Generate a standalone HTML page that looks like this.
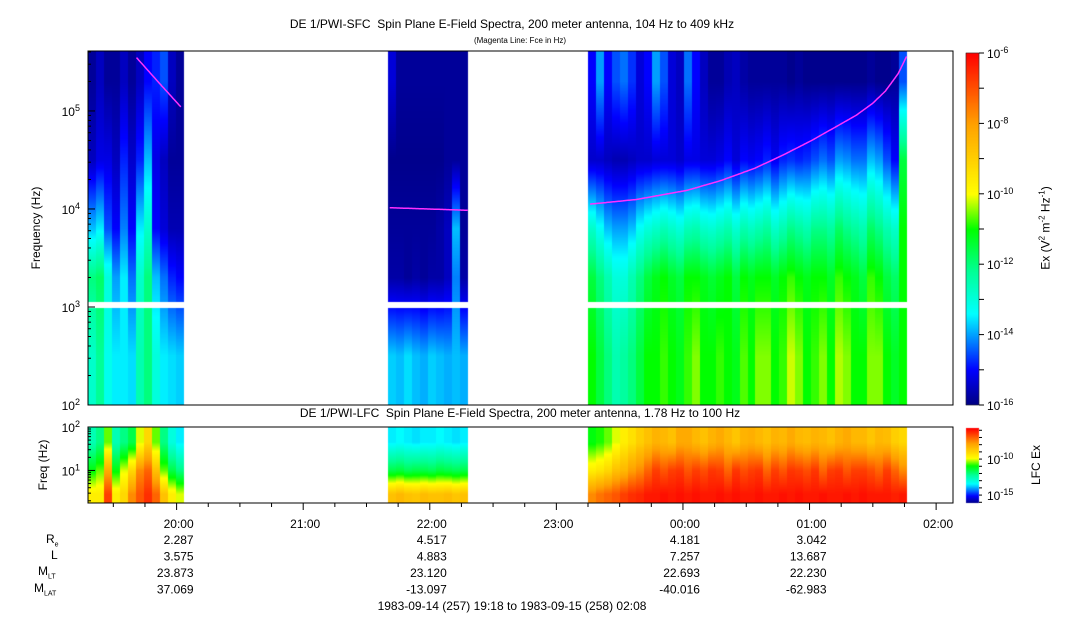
<!DOCTYPE html>
<html><head><meta charset="utf-8">
<style>
html,body{margin:0;padding:0;background:#fff;}
body{width:1083px;height:620px;position:relative;overflow:hidden;font-family:"Liberation Sans",sans-serif;color:#000;}
.t{position:absolute;white-space:nowrap;font-size:12px;}
canvas,svg{position:absolute;left:0;top:0;}
</style></head><body>
<canvas id="cv" width="1083" height="620"></canvas>
<svg id="sv" width="1083" height="620"></svg>
<div class="t" style="left:0;width:1024px;text-align:center;top:17px;font-size:12px">DE 1/PWI-SFC&nbsp; Spin Plane E-Field Spectra, 200 meter antenna, 104 Hz to 409 kHz</div>
<div class="t" style="left:0;width:1040px;text-align:center;top:36px;font-size:8px">(Magenta Line: Fce in Hz)</div>
<div class="t" style="left:0;width:1040px;text-align:center;top:406px;font-size:12px">DE 1/PWI-LFC&nbsp; Spin Plane E-Field Spectra, 200 meter antenna, 1.78 Hz to 100 Hz</div>
<div class="t" style="left:36px;top:228px;transform:translate(-50%,-50%) rotate(-90deg);">Frequency (Hz)</div>
<div class="t" style="left:43px;top:465px;transform:translate(-50%,-50%) rotate(-90deg);">Freq (Hz)</div>
<div class="t" style="left:1045px;top:228px;transform:translate(-50%,-50%) rotate(-90deg);">Ex (V<sup style="font-size:8px">2</sup> m<sup style="font-size:8px">-2</sup> Hz<sup style="font-size:8px">-1</sup>)</div>
<div class="t" style="left:1036px;top:465px;transform:translate(-50%,-50%) rotate(-90deg);">LFC Ex</div>
<div class="t" style="left:46px;top:532px">R<sub style="font-size:7px">e</sub></div>
<div class="t" style="left:51px;top:548px">L</div>
<div class="t" style="left:38px;top:564px">M<sub style="font-size:7px">LT</sub></div>
<div class="t" style="left:34px;top:581px">M<sub style="font-size:7px">LAT</sub></div>
<div class="t" style="left:0;width:1024px;text-align:center;top:599px">1983-09-14 (257) 19:18 to 1983-09-15 (258) 02:08</div>
<script>
// ---- data ----
const segTimes=[[0,45.5],[142.2,180.1],[237,388.2]]; // minutes after 19:18 (start,end) of data segments
// SFC band levels (log10 Ex) per column, bands A(100-1k) B(1k-4k) C(4k-12k) D(12k-100k) E(100k-409k)
const s1A=[-12.8,-12.2,-13.2,-13.5,-13.5,-13.6,-12.5,-12,-13,-13.5,-13.6,-13.7];
const s1B=[-12,-11.8,-13,-14,-13.5,-14.3,-12.8,-12,-13.8,-14.3,-14.8,-15];
const s1C=[-13.8,-13.5,-14.5,-15,-14.2,-15,-13.5,-12.8,-15,-15.3,-15.6,-15.6];
const s1D=[-15.5,-15.2,-15.2,-15.5,-14.8,-15.4,-14.8,-13.8,-15.2,-15.5,-15.8,-15.8];
const s1E=[-15.8,-15.5,-15.8,-15.8,-15.5,-15.8,-15.5,-15,-14.8,-14.5,-15.5,-15.8];
const s2A=[-13.7,-13.8,-13.6,-13.8,-13.9,-13.7,-13.8,-13.9,-13.8,-13.9];
const s2B=[-15.7,-15.7,-15.8,-15.7,-15.8,-15.7,-15.7,-15.5,-14.2,-15.7];
const s2C=[-15.8,-15.8,-15.8,-15.8,-15.8,-15.8,-15.7,-15.5,-13.8,-15.8];
const s2D=[-15.9,-15.9,-15.9,-15.9,-15.9,-15.9,-15.9,-15.8,-15.8,-15.8];
const s2E=[-15.3,-15.8,-15.8,-15.8,-15.8,-15.8,-15.8,-15.8,-15.8,-15.8];
const s3A=[-11,-11.5,-12,-12.5,-12.3,-12,-11.5,-11,-11,-10.8,-11,-11.2,-10.8,-10.5,-11,-11,-10.8,-11,-11.2,-10.7,-11,-10.5,-10.5,-11,-10.8,-10.2,-10.5,-11,-10.8,-10.5,-11,-10.3,-10.5,-11,-11,-10.5,-10.5,-11,-11.3,-11];
const s3B=[-11.5,-12,-12.5,-13,-13,-12.5,-12,-11.5,-11.2,-11,-11.3,-11.5,-11,-11,-11.2,-11.4,-11.2,-11,-11.5,-11,-11.2,-11,-11,-11.3,-11,-10.8,-11,-11.2,-11,-11,-11.3,-10.8,-11,-11.2,-11.5,-10.8,-11,-11.5,-11.8,-11];
const s3C=[-12.8,-13.3,-13.8,-14,-14,-13.8,-13.3,-13,-12.8,-12.6,-12.8,-13,-12.6,-12.5,-12.8,-12.9,-12.7,-12.5,-12.9,-12.5,-12.7,-12.5,-12.3,-12.8,-12.5,-12.1,-12.3,-12.5,-12.1,-12.1,-12.3,-11.8,-12.1,-12.3,-12.5,-11.8,-12.1,-12.5,-12.8,-11];
const s3D=[-15.4,-15.4,-15.5,-15.6,-15.6,-15.5,-15.4,-15.4,-15.3,-15.3,-15.3,-15.4,-15.2,-15.2,-15.3,-15.3,-15.2,-15,-15.3,-15,-15.1,-15,-14.8,-15.1,-14.8,-14.7,-14.8,-14.7,-14.5,-14.3,-14.5,-14,-14.1,-14.3,-14.3,-13.8,-14,-14.5,-15,-11.5];
const s3E=[-15,-14,-15,-14.5,-14.3,-14.7,-15.3,-15,-14,-14.5,-15.3,-15.5,-14.3,-15,-15.5,-15.8,-15.8,-15.6,-15.5,-15.7,-15.8,-15.8,-15.8,-15.8,-15.8,-15.9,-15.8,-15.9,-15.9,-15.9,-15.9,-15.9,-15.9,-15.9,-15.9,-15.8,-15.9,-15.9,-15.8,-14.5];
// LFC bands low(1.78-5) mid(5-20) high(20-100)
const l1L=[-9.5,-9.5,-6.5,-9.5,-9,-7.5,-6.8,-6.3,-7,-8.5,-9.5,-10];
const l1M=[-11,-10.5,-8,-11,-10,-9,-7.5,-7,-8.5,-10.5,-11.5,-12];
const l1H=[-12.5,-12,-10.5,-12.5,-12,-11.5,-10,-9,-10.5,-12,-13,-13.5];
const l2L=[-8.5,-8.3,-8.5,-8.6,-8.4,-8.5,-8.5,-8.4,-8.6,-8.5];
const l2M=[-11.5,-11.4,-11.6,-11.5,-11.5,-11.6,-11.4,-11.5,-11.6,-11.5];
const l2H=[-13.5,-13.4,-13.5,-13.6,-13.5,-13.5,-13.4,-13.5,-13.6,-13.5];
const l3L=[-7.5,-7.2,-7,-6.8,-6.5,-6.3,-6.2,-6,-6,-5.9,-6,-5.9,-6,-5.9,-6,-6,-5.9,-6,-5.9,-6,-6,-5.9,-6,-6,-5.9,-6,-5.9,-6,-6,-5.9,-6,-6,-5.9,-6,-5.9,-6,-6,-6,-6.1,-6];
const l3M=[-9.5,-9.3,-9,-8.5,-8.3,-7.8,-7.5,-7,-6.5,-6.8,-6.5,-6.4,-6.8,-6.5,-6.7,-6.4,-6.5,-7,-6.4,-6.7,-6.5,-6.4,-7,-6.5,-6.8,-6.4,-6.5,-6.7,-6.4,-7,-6.5,-6.4,-6.8,-6.5,-6.5,-6.7,-7,-6.5,-7,-7.5];
const l3H=[-11,-10.8,-10.5,-10,-9.5,-9.2,-8.8,-8.5,-8.2,-8.3,-8.5,-8,-8,-8.3,-8.5,-8.2,-8,-8.3,-8.6,-8.2,-8.1,-8.3,-8.5,-8.2,-8.3,-8,-8.3,-8.4,-8.2,-8.3,-8.5,-8.2,-8,-8.3,-8.3,-8.6,-8.3,-8.4,-8.8,-9];
// Fce magenta line: times (min after 19:18) and Fce (Hz)
const fceT1=[23,34,44], fceV1=[350000,190000,110000];
const fceT2=[143,180], fceV2=[10300,9700];
const fceT3=[238,260,284,300,316,330,343,354,364,372,378,384,388], fceV3=[11200,12500,15500,19500,26000,36000,50000,68000,90000,120000,160000,240000,360000];
// ticks & annotations
const hourLabels=["20:00","21:00","22:00","23:00","00:00","01:00","02:00"];
const hourMins=[42,102,162,222,282,342,402];
const annRe=["2.287","4.517","4.181","3.042"];
const annL=["3.575","4.883","7.257","13.687"];
const annMLT=["23.873","23.120","22.693","22.230"];
const annMLAT=["37.069","-13.097","-40.016","-62.983"];
const annCols=[0,2,4,5];

// ---- geometry ----
const X0=88,X1=953,TMAX=410;
const xT=m=>X0+m*(X1-X0)/TMAX;
const Y0=51,Y1=405,LF0=2,LF1=Math.log10(409000);
const yF=f=>Y1-(Math.log10(f)-LF0)*(Y1-Y0)/(LF1-LF0);
const LY0=427,LY1=503,LL0=Math.log10(1.78),LL1=2;
const yL=f=>LY1-(Math.log10(f)-LL0)*(LY1-LY0)/(LL1-LL0);
const stops=[[0,0,0,128],[0.1,0,0,255],[0.26,0,255,255],[0.38,0,255,150],[0.5,0,255,0],[0.6,255,255,0],[0.8,255,160,0],[1,255,0,0]];
function cmap(t){t=Math.max(0,Math.min(1,t));for(let i=1;i<stops.length;i++){if(t<=stops[i][0]){const a=stops[i-1],b=stops[i],u=(t-a[0])/(b[0]-a[0]);return `rgb(${Math.round(a[1]+u*(b[1]-a[1]))},${Math.round(a[2]+u*(b[2]-a[2]))},${Math.round(a[3]+u*(b[3]-a[3]))})`;}}return 'rgb(255,0,0)';}
function interp(xs,ys,x){if(x<=xs[0])return ys[0];for(let i=1;i<xs.length;i++){if(x<=xs[i]){const u=(x-xs[i-1])/(xs[i]-xs[i-1]);return ys[i-1]+u*(ys[i]-ys[i-1]);}}return ys[ys.length-1];}

const cv=document.getElementById('cv'),ctx=cv.getContext('2d');
const sfc=[[s1A,s1B,s1C,s1D,s1E],[s2A,s2B,s2C,s2D,s2E],[s3A,s3B,s3C,s3D,s3E]];
const lfc=[[l1L,l1M,l1H],[l2L,l2M,l2H],[l3L,l3M,l3H]];
const bandC=[2.5,3.3,3.8,4.5,5.3], lbandC=[0.45,1.0,1.65];
segTimes.forEach((st,si)=>{
  const xa=xT(st[0]),xb=xT(st[1]);const n=sfc[si][0].length;const w=(xb-xa)/n;
  for(let c=0;c<n;c++){
    const vals=sfc[si].map(a=>a[c]);
    const x0=Math.round(xa+c*w),x1=Math.round(xa+(c+1)*w);
    for(let y=Y0;y<Y1;y++){
      const lf=LF0+(Y1-y-0.5)*(LF1-LF0)/(Y1-Y0);
      if(lf>2.985&&lf<3.05) continue;
      const v=interp(bandC,vals,lf);
      ctx.fillStyle=cmap((v+16)/10);ctx.fillRect(x0,y,x1-x0,1);
    }
    const lv=lfc[si].map(a=>a[c]);
    for(let y=LY0;y<LY1;y++){
      const lf=LL0+(LY1-y-0.5)*(LL1-LL0)/(LY1-LY0);
      const v=interp(lbandC,lv,lf);
      ctx.fillStyle=cmap((v+16.1)/10.4);ctx.fillRect(x0,y,x1-x0,1);
    }
  }
});
// colorbars
for(let y=53;y<405;y++){ctx.fillStyle=cmap((405-y)/352);ctx.fillRect(966,y,13,1);}
for(let y=428;y<503;y++){ctx.fillStyle=cmap((503-y)/75);ctx.fillRect(966,y,13,1);}

// ---- SVG axes ----
const NS='http://www.w3.org/2000/svg',sv=document.getElementById('sv');
function el(tag,at,name){const e=document.createElementNS(NS,tag);for(const k in at)e.setAttribute(k,at[k]);


sv.appendChild(e);return e;}
function txt(x,y,s,anchor,name,size){const e=el('text',{x:x,y:y,'text-anchor':anchor,'font-size':size||12,'font-family':'Liberation Sans, sans-serif'},name);e.textContent=s;return e;}
el('rect',{x:X0,y:Y0,width:X1-X0,height:Y1-Y0,fill:'none',stroke:'#000'},'sfc-frame');
el('rect',{x:X0,y:LY0,width:X1-X0,height:LY1-LY0,fill:'none',stroke:'#000'},'lfc-frame');
el('rect',{x:966,y:53,width:13,height:352,fill:'none',stroke:'#000','stroke-width':0.5},'colorbar-frame');
// magenta fce
[[fceT1,fceV1],[fceT2,fceV2],[fceT3,fceV3]].forEach((p,i)=>{
  let d='';for(let m=p[0][0];m<=p[0][p[0].length-1];m+=0.5){const lv=interp(p[0],p[1].map(Math.log10),m);d+=(d?'L':'M')+xT(m).toFixed(1)+','+yF(Math.pow(10,lv)).toFixed(1);}
  el('path',{d:d,fill:'none',stroke:'#ff30ff','stroke-width':1.5},'fce-line-'+(i+1));
});
// freq ticks SFC
for(let dec=2;dec<=5;dec++){for(let k=1;k<10;k++){const f=k*Math.pow(10,dec);if(f>409000)break;const y=yF(f);const L=k==1?7:3;
el('line',{x1:X0,y1:y,x2:X0+L,y2:y,stroke:'#000'},'y-tick');}
const y=yF(Math.pow(10,dec));const t=txt(80,y+5,'10','end','y-tick-label',12);const s=document.createElementNS(NS,'tspan');s.setAttribute('dy','-5');s.setAttribute('font-size','9');s.textContent=dec;t.appendChild(s);}
// LFC ticks
[2,3,4,5,6,7,8,9,10,20,30,40,50,60,70,80,90,100].forEach(f=>{const y=yL(f);el('line',{x1:X0,y1:y,x2:X0+(f==10||f==100?7:3),y2:y,stroke:'#000'},'lfc-y-tick');});
[[1,10],[2,100]].forEach(p=>{const t=txt(80,yL(p[1])+5,'10','end','lfc-y-tick-label',12);const s=document.createElementNS(NS,'tspan');s.setAttribute('dy','-5');s.setAttribute('font-size','9');s.textContent=p[0];t.appendChild(s);});
// time ticks
for(let m=12;m<=TMAX;m+=15){const x=xT(m);const major=(m-42)%60==0;el('line',{x1:x,y1:LY1,x2:x,y2:LY1+(major?7:4),stroke:'#000'},'x-tick');}
hourLabels.forEach((h,i)=>txt(xT(hourMins[i])+2,528,h,'middle','x-tick-label',12));
// colorbar ticks
for(let d=-16;d<=-6;d++){const y=405-(d+16)*35.2;el('line',{x1:979,y1:y,x2:984,y2:y,stroke:'#000'},'colorbar-tick');
if(d%2==0){const t=txt(987,y+5,'10','start','colorbar-label',12);const s=document.createElementNS(NS,'tspan');s.setAttribute('dy','-5');s.setAttribute('font-size','9');s.textContent=d;t.appendChild(s);}}
for(let d=-16;d<=-6;d++){const y=503-(d+16.1)*7.2;el('line',{x1:979,y1:y,x2:982,y2:y,stroke:'#000'},'lfc-colorbar-tick');}
[-10,-15].forEach(d=>{const y=503-(d+16.1)*7.2;const t=txt(987,y+5,'10','start','lfc-colorbar-label',12);const s=document.createElementNS(NS,'tspan');s.setAttribute('dy','-5');s.setAttribute('font-size','9');s.textContent=d;t.appendChild(s);});
// annotation values
[annRe,annL,annMLT,annMLAT].forEach((arr,r)=>{arr.forEach((v,i)=>{txt(xT(hourMins[annCols[i]])+17,544+r*16.5,v,'end','ephemeris-value',12);});});
</script>
</body></html>
